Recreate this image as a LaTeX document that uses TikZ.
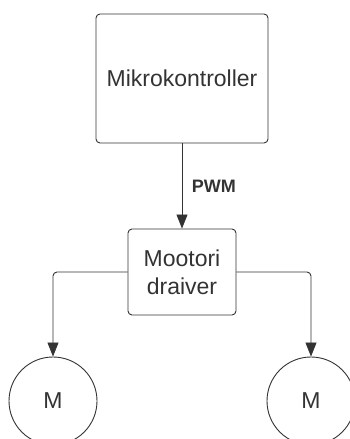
\documentclass[tikz,border=0pt]{standalone}
\usepackage{fontspec}
\setmainfont{Liberation Sans}
\usetikzlibrary{arrows.meta}
\definecolor{ink}{HTML}{333333}
\tikzset{every node/.style={font=\fontsize{23}{28}\selectfont,text=ink},line cap=round,line join=round,
  block/.style={draw=ink,line width=0.9pt,rounded corners=4pt,align=center},
  motor/.style={draw=ink,line width=0.9pt,circle,minimum size=88pt,inner sep=0pt},
  link/.style={draw=ink,line width=0.9pt,rounded corners=4pt,-{Triangle[length=14pt,width=11pt]}}}

\begin{document}
\begin{tikzpicture}[x=1pt,y=1pt]
  \path[use as bounding box] (0,0) rectangle (349,439);
  \node[block,minimum width=172pt,minimum height=129pt] (mcu) at (182,360.5) {Mikrokontroller};
  \node[block,minimum width=108pt,minimum height=86pt] (drv) at (182,167) {Mootori\\draiver};
  \node[motor] (motL) at (53,38) {M};
  \node[motor] (motR) at (311,38) {M};
  \draw[link] (mcu) -- node[right=6pt,font=\fontsize{18}{20}\selectfont\bfseries] (pwm) {PWM} (drv);
  \draw[link] (drv.west) -| (motL.north);
  \draw[link] (drv.east) -| (motR.north);
\end{tikzpicture}
\end{document}
